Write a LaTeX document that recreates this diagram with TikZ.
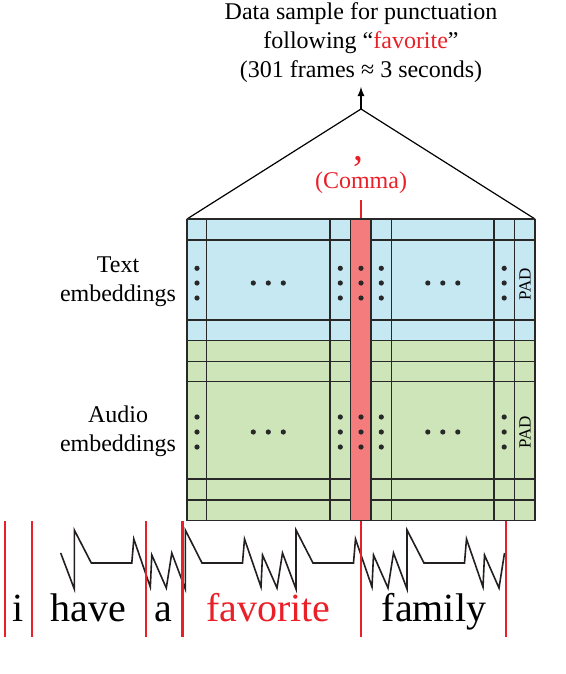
\documentclass[tikz,border=0pt]{standalone}
\usepackage{fontspec}
\setmainfont{Liberation Serif}[Ligatures=TeX]
\newfontfamily\timesfont{Liberation Serif}
\usepackage{tikz}
\usetikzlibrary{arrows}
\definecolor{colortext}  {RGB}{197,232,243}
\definecolor{coloraudio} {RGB}{205,229,185}
\definecolor{colortarget}{RGB}{244,124,124}
\definecolor{colormark}  {RGB}{234, 32, 40}
\definecolor{colorgrid}  {RGB}{ 40, 40, 40}
\definecolor{colorwave}  {RGB}{ 35, 31, 32}

\begin{document}
\begin{tikzpicture}[
    x=0.5pt, y=-0.5pt,
    font={\timesfont\fontsize{12}{14.5}\selectfont},
    base/.style={inner sep=0pt,align=center},
    word/.style={inner sep=0pt,anchor=base,font={\timesfont\fontsize{20}{24}\selectfont}},
    pad/.style={inner sep=0pt,rotate=90,font={\timesfont\fontsize{8.5}{10}\selectfont}},
    gridline/.style={line width=0.7pt,color=colorgrid},
    boundary/.style={line width=1.1pt,color=colormark},
    wave/.style={line width=0.8pt,color=colorwave,line join=miter}
]

    \useasboundingbox (0,0) rectangle (566,674);

    % title and the sample window
    \node[base,anchor=north] (title) at (361,2)
        {Data sample for punctuation\\following “\textcolor{colormark}{favorite}”\\(301 frames ≈ 3 seconds)};
    \coordinate (apex) at (361,109);
    \coordinate (gridNW) at (187,219);
    \coordinate (gridNE) at (535,219);
    \draw[line width=0.6pt] (gridNW) -- (apex) -- (gridNE);
    \draw[-latex,line width=0.6pt,shorten >=2pt] (apex) -- (title.south);

    \node[base,anchor=base,text=colormark,font={\timesfont\fontsize{20}{24}\selectfont}] (punct) at (358,161) {,};
    \node[base,text=colormark] (comma) at (361,182.5) {(Comma)};
    \draw[line width=1pt,color=colormark,shorten <=3pt] (comma.south) -- (361,219);

    % embeddings
    \fill[colortext] (187,219) rectangle (535,340.7);
    \fill[coloraudio] (187,340.7) rectangle (535,520.7);
    \foreach \y in {219,240,320,340.7,361.7,381.7,479,500,520.7}
        \draw[gridline] (187,\y) -- (535,\y);
    \foreach \x in {187,206.7,330,350.7,371,391.7,494,514.3,535}
        \draw[gridline] (\x,219) -- (\x,520.7);
    \draw[gridline,fill=colortarget] (350.7,219) rectangle (371,520.7);

    \foreach \x in {197,340.3,361,381.3,504.2}
        \foreach \y in {268.3,283,298,417,432,447}
            \fill[colorgrid] (\x,\y) circle (1.3pt);
    \foreach \x in {253.3,268.3,283.3,427.8,442.8,457.8}
        \foreach \y in {283,432}
            \fill[colorgrid] (\x,\y) circle (1.3pt);

    \node[pad] (txtpad) at (525,284) {PAD};
    \node[pad] (audpad) at (525,432.5) {PAD};
    \node[base] (txtlbl) at (118,282) {Text\\embeddings};
    \node[base] (audlbl) at (118,431) {Audio\\embeddings};

    % waveform
    \draw[wave] (60.7,553) -- (74.3,589) -- (74.3,530) -- (91.3,563) -- (131.8,563)
        -- (133.8,539) -- (150.3,587) -- (151.8,555) -- (166.3,588) -- (171.8,553)
        -- (185.3,589) -- (185.3,530) -- (202,563) -- (242.5,563)
        -- (244.5,539) -- (261,587) -- (262.5,555) -- (277,588) -- (282.5,553)
        -- (296,589) -- (296,530) -- (313,563) -- (353.5,563)
        -- (355.5,539) -- (372,587) -- (373.5,555) -- (388,588) -- (393.5,553)
        -- (407,589) -- (407,530) -- (424,563) -- (464.5,563)
        -- (466.5,539) -- (483,587) -- (484.5,555) -- (499,588) -- (504.5,553);

    % word boundaries
    \draw[boundary] (5,521) -- (5,637);
    \draw[boundary] (32.3,521) -- (32.3,637);
    \draw[boundary] (146,521) -- (146,637);
    \draw[boundary] (182.5,521) -- (182.5,637);
    \draw[boundary] (360.7,521) -- (360.7,637);
    \draw[boundary] (505.7,521) -- (505.7,637);

    \node[word] (wi) at (18,621.7) {i};
    \node[word] (whave) at (88.3,621.7) {have};
    \node[word] (wa) at (163,621.7) {a};
    \node[word,text=colormark] (wfavorite) at (268.5,621.7) {favorite};
    \node[word] (wfamily) at (434,621.7) {family};

\end{tikzpicture}
\end{document}
